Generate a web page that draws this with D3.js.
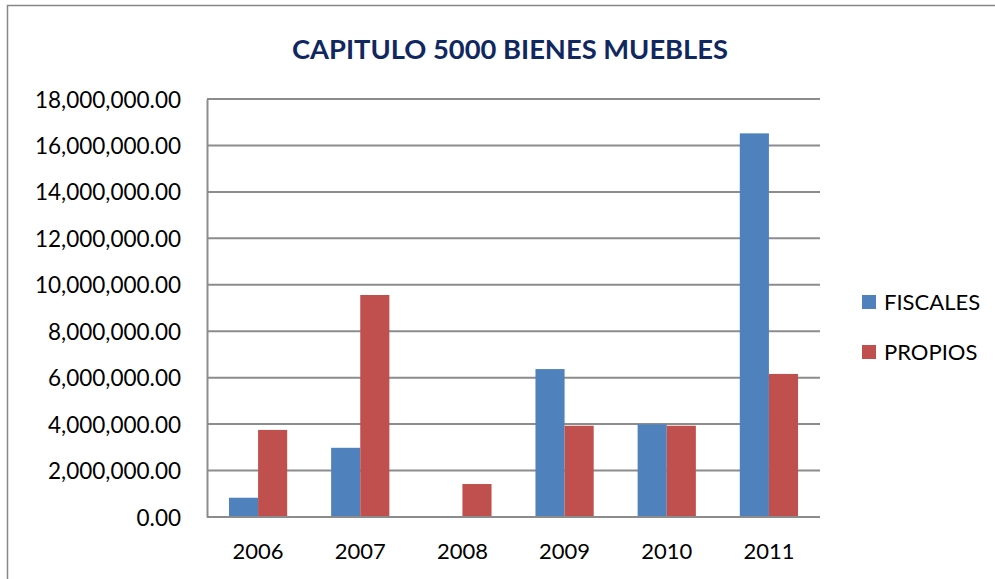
<!DOCTYPE html>
<html>
<head>
<meta charset="utf-8">
<script src="https://cdn.jsdelivr.net/npm/d3@7"></script>
<style>
  body { margin: 0; background: #fff; }
  svg { display: block; font-family: Lato, "Open Sans", sans-serif; }
</style>
</head>
<body>
<div id="chart"></div>
<script>
// data
const years = ['2006', '2007', '2008', '2009', '2010', '2011'];
const seriesNames = ['FISCALES', 'PROPIOS'];
const fiscales = [830000, 2980000, 0, 6370000, 3990000, 16520000];
const propios = [3750000, 9560000, 1420000, 3930000, 3930000, 6160000];
const yTicks = [0, 2000000, 4000000, 6000000, 8000000, 10000000, 12000000, 14000000, 16000000, 18000000];
const colors = ['#4F81BD', '#C0504D'];

const width = 995, height = 579;
const margin = { left: 207, right: 175, top: 99, bottom: 62 };

const svg = d3.select('#chart').append('svg')
    .attr('width', width)
    .attr('height', height);

// outer chart border
svg.append('rect')
    .attr('x', 7.5).attr('y', 5.5)
    .attr('width', 1000).attr('height', 600)
    .attr('fill', 'none')
    .attr('stroke', '#878787')
    .attr('stroke-width', 1.5);

svg.append('text')
    .attr('x', 510).attr('y', 59)
    .attr('text-anchor', 'middle')
    .attr('font-size', 27.5)
    .attr('font-weight', 'bold')
    .attr('fill', '#10285F')
    .attr('textLength', 436)
    .attr('lengthAdjust', 'spacingAndGlyphs')
    .text('CAPITULO 5000 BIENES MUEBLES');

const x = d3.scaleBand()
    .domain(years)
    .range([margin.left, width - margin.right])
    .paddingInner(0.43)
    .paddingOuter(0.215);

const xInner = d3.scaleBand()
    .domain(seriesNames)
    .range([0, x.bandwidth()]);

const y = d3.scaleLinear()
    .domain([0, 18000000])
    .range([height - margin.bottom, margin.top]);

// gridlines
svg.append('g')
    .selectAll('line')
    .data(yTicks)
    .join('line')
    .attr('x1', margin.left).attr('x2', width - margin.right)
    .attr('y1', d => y(d)).attr('y2', d => y(d))
    .attr('stroke', '#8C8C8C')
    .attr('stroke-width', 2);

// y axis
const yAxis = svg.append('g')
    .attr('transform', `translate(${margin.left},0)`)
    .call(d3.axisLeft(y).tickValues(yTicks).tickSize(0).tickPadding(26)
        .tickFormat(d3.format(',.2f')));
yAxis.select('.domain').attr('stroke', '#8C8C8C').attr('stroke-width', 2);
yAxis.selectAll('text').attr('font-size', 22.5).attr('fill', '#000')
    .attr('font-family', 'Lato, sans-serif')
    .attr('dy', '0.36em');

// bars
const rows = years.map((yr, i) => ({ year: yr, values: [fiscales[i], propios[i]] }));
svg.append('g')
    .selectAll('g')
    .data(rows)
    .join('g')
    .attr('transform', d => `translate(${x(d.year)},0)`)
    .selectAll('rect')
    .data(d => d.values.map((v, j) => ({ key: seriesNames[j], value: v, color: colors[j] })))
    .join('rect')
    .attr('x', d => xInner(d.key))
    .attr('width', xInner.bandwidth())
    .attr('y', d => y(d.value))
    .attr('height', d => y(0) - y(d.value))
    .attr('fill', d => d.color);

// x axis
const xAxis = svg.append('g')
    .attr('transform', `translate(0,${height - margin.bottom})`)
    .call(d3.axisBottom(x).tickSize(0).tickPadding(26));
xAxis.select('.domain').attr('stroke', '#8C8C8C').attr('stroke-width', 2)
    .attr('d', `M${margin.left},0H${width - margin.right}`);
xAxis.selectAll('text').attr('font-size', 22).attr('fill', '#000')
    .attr('font-family', 'Lato, sans-serif');

// legend
const legend = svg.append('g')
    .selectAll('g')
    .data(seriesNames)
    .join('g')
    .attr('transform', (d, i) => `translate(862,${295 + i * 50})`);
legend.append('rect')
    .attr('width', 14).attr('height', 14)
    .attr('fill', (d, i) => colors[i]);
legend.append('text')
    .attr('x', 22).attr('y', 7)
    .attr('dy', '0.36em')
    .attr('font-size', 22)
    .text(d => d);
</script>
</body>
</html>
